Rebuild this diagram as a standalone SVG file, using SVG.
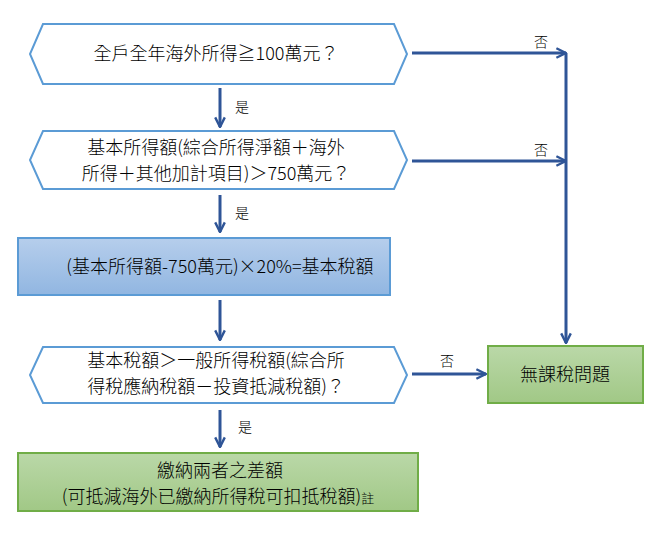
<svg xmlns="http://www.w3.org/2000/svg" width="664" height="538" viewBox="0 0 664 538">
<style>
.t{font-family:"Microsoft JhengHei","Noto Sans CJK TC","Noto Sans",sans-serif;font-size:18px;font-weight:300;fill:#000;text-anchor:middle}
.l{font-family:"Noto Sans CJK TC",sans-serif;font-size:14px;font-weight:300;fill:#000;text-anchor:middle}
.hex{fill:#fff;stroke:#5B9BD5;stroke-width:2}
.c{fill:none;stroke:#2F5597;stroke-width:3}
</style>
<defs>
<marker id="a" viewBox="0 0 10 10" refX="9" refY="5" markerWidth="4" markerHeight="4" orient="auto" markerUnits="strokeWidth">
<path d="M1,1 L9,5 L1,9" fill="none" stroke="#2F5597" stroke-width="2"/>
</marker>
<linearGradient id="gb" x1="0" y1="0" x2="0" y2="1"><stop offset="0" stop-color="#B6CEEC"/><stop offset="1" stop-color="#91B6E1"/></linearGradient>
<linearGradient id="gg" x1="0" y1="0" x2="0" y2="1"><stop offset="0" stop-color="#BAD8A8"/><stop offset="1" stop-color="#A1C886"/></linearGradient>
</defs>
<g id="connectors">
<path class="c" d="M412,53 H566" marker-end="url(#a)"/>
<path class="c" d="M412,161 H566" marker-end="url(#a)"/>
<path class="c" d="M566,53 V343" marker-end="url(#a)"/>
<path class="c" d="M220,88 V127" marker-end="url(#a)"/>
<path class="c" d="M220,195 V232" marker-end="url(#a)"/>
<path class="c" d="M220,300 V340" marker-end="url(#a)"/>
<path class="c" d="M412,374 H486" marker-end="url(#a)"/>
<path class="c" d="M220,410 V447" marker-end="url(#a)"/>
<text class="l" x="541" y="47">否</text>
<text class="l" x="541" y="155">否</text>
<text class="l" x="447" y="366">否</text>
<text class="l" x="242" y="112">是</text>
<text class="l" x="242" y="218">是</text>
<text class="l" x="245" y="432">是</text>
</g>
<g id="q1">
<polygon class="hex" points="43,24 394,24 407,54 394,84 43,84 30,54"/>
<text class="t" x="216" y="60">全戶全年海外所得≧100萬元？</text>
</g>
<g id="q2">
<polygon class="hex" points="43,131 394,131 407,160 394,189 43,189 30,160"/>
<text class="t" x="216" y="154">基本所得額(綜合所得淨額＋海外</text>
<text class="t" x="216" y="180">所得＋其他加計項目)＞750萬元？</text>
</g>
<g id="calc">
<rect x="18" y="238" width="372" height="57" fill="url(#gb)" stroke="#5B9BD5" stroke-width="2"/>
<text class="t" x="220" y="273">(基本所得額-750萬元)×20%=基本稅額</text>
</g>
<g id="q3">
<polygon class="hex" points="43,347 394,347 407,375 394,403 43,403 30,375"/>
<text class="t" x="216" y="367">基本稅額＞一般所得稅額(綜合所</text>
<text class="t" x="216" y="393">得稅應納稅額－投資抵減稅額)？</text>
</g>
<g id="nodue">
<rect x="488" y="346" width="155" height="57" fill="url(#gg)" stroke="#70AD47" stroke-width="2"/>
<text class="t" x="565" y="381">無課稅問題</text>
</g>
<g id="pay">
<rect x="18" y="453" width="400" height="58" fill="url(#gg)" stroke="#70AD47" stroke-width="2"/>
<text class="t" x="220" y="477">繳納兩者之差額</text>
<text class="t" x="218" y="503">(可抵減海外已繳納所得稅可扣抵稅額)<tspan font-size="13px">註</tspan></text>
</g>
</svg>
